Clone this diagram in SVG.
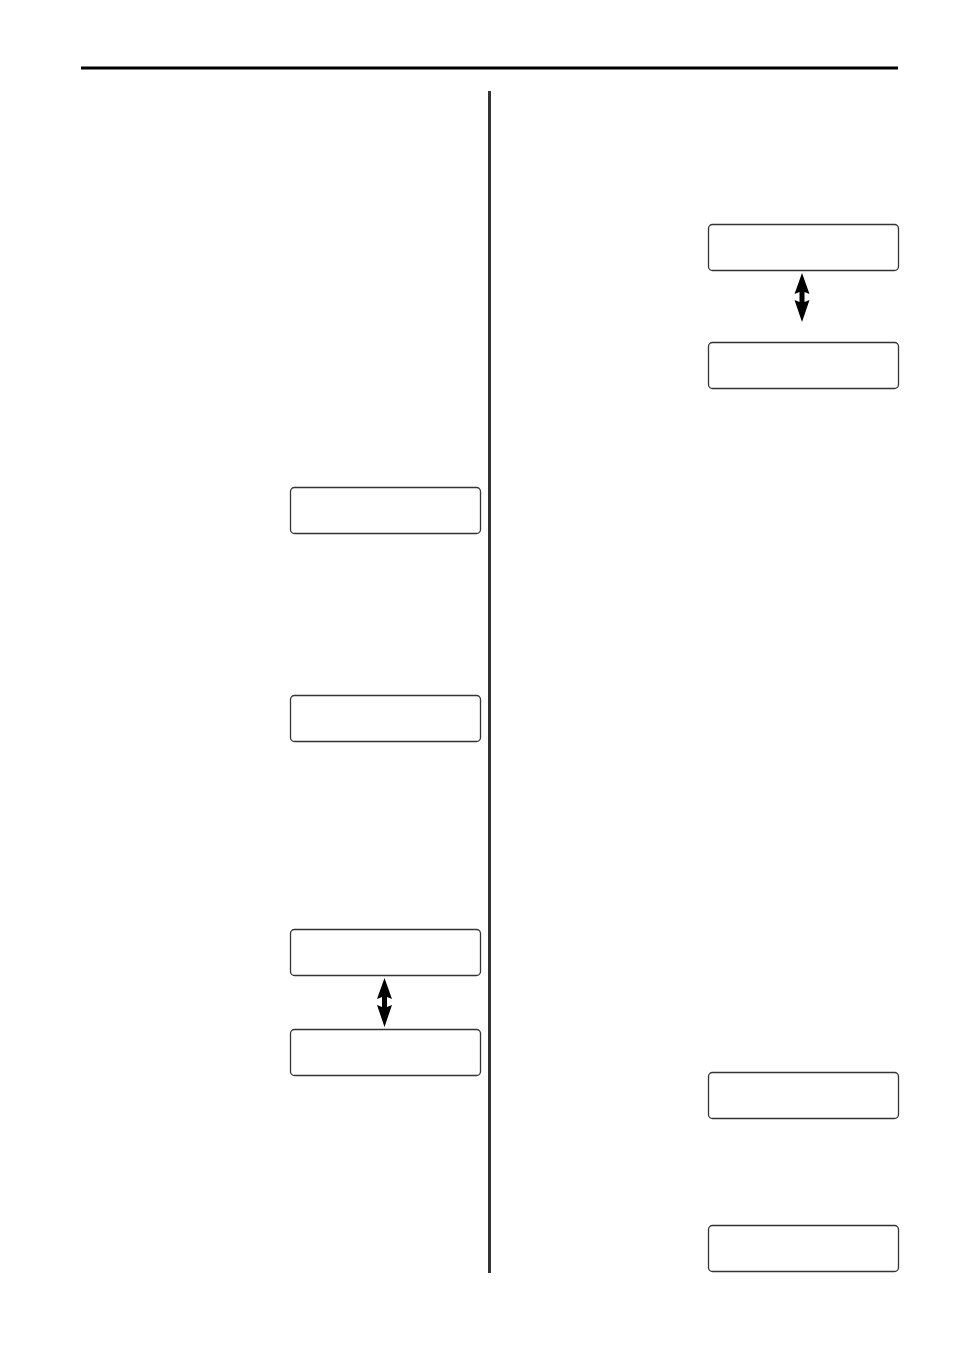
<svg xmlns="http://www.w3.org/2000/svg" width="954" height="1350" viewBox="0 0 954 1350">
<style>
.lcd{fill:#fff;stroke:#333;stroke-width:1.3}
.arr{fill:#000}
</style>
<defs>
<path id="dbl" d="M0,0 L7.5,21 L2.5,19 L2.5,29 L7.5,27 L0,49 L-7.5,27 L-2.5,29 L-2.5,19 L-7.5,21 Z"/>
</defs>
<rect width="954" height="1350" fill="#fff"/>
<g id="rules">
<rect x="81" y="66.5" width="817" height="3" fill="#000"/>
<rect x="488" y="91" width="3" height="1182" fill="#333"/>
</g>
<g id="box-l1"><rect class="lcd" x="290.5" y="487.5" width="190" height="46" rx="4"/></g>
<g id="box-l2"><rect class="lcd" x="290.5" y="695.5" width="190" height="46" rx="4"/></g>
<g id="box-l3"><rect class="lcd" x="290.5" y="929.5" width="190" height="46" rx="4"/></g>
<g id="box-l4"><rect class="lcd" x="290.5" y="1029.5" width="190" height="46" rx="4"/></g>
<g id="box-r1"><rect class="lcd" x="708.5" y="224.5" width="190" height="46" rx="4"/></g>
<g id="box-r2"><rect class="lcd" x="708.5" y="342.5" width="190" height="46" rx="4"/></g>
<g id="box-r3"><rect class="lcd" x="708.5" y="1072.5" width="190" height="46" rx="4"/></g>
<g id="box-r4"><rect class="lcd" x="708.5" y="1225.5" width="190" height="46" rx="4"/></g>
<g id="connectors">
<use href="#dbl" class="arr" transform="translate(802,273)"/>
<use href="#dbl" class="arr" transform="translate(384.5,978)"/>
</g>
</svg>
